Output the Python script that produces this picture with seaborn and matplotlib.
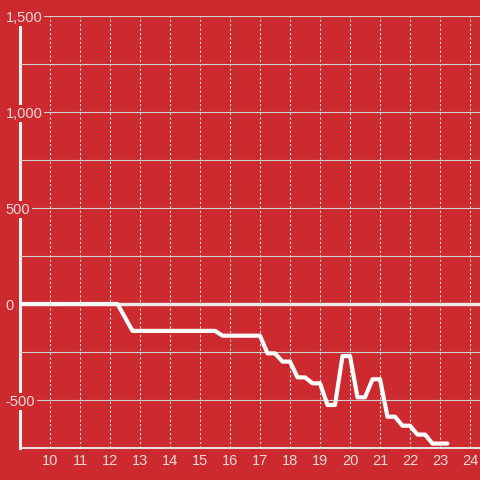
import matplotlib
matplotlib.use("Agg")
import matplotlib.pyplot as plt
import matplotlib.ticker as mticker
import numpy as np
import pandas as pd
import seaborn as sns

# hour of day (quarter steps) and running value
hours = [9.0, 9.25, 9.5, 9.75, 10.0, 10.25, 10.5, 10.75, 11.0, 11.25, 11.5, 11.75,
         12.0, 12.25, 12.5, 12.75, 13.0, 13.25, 13.5, 13.75, 14.0, 14.25, 14.5, 14.75,
         15.0, 15.25, 15.5, 15.75, 16.0, 16.25, 16.5, 16.75, 17.0, 17.25, 17.5, 17.75,
         18.0, 18.25, 18.5, 18.75, 19.0, 19.25, 19.5, 19.75, 20.0, 20.25, 20.5, 20.75,
         21.0, 21.25, 21.5, 21.75, 22.0, 22.25, 22.5, 22.75, 23.0, 23.25]
values = [0, 0, 0, 0, 0, 0, 0, 0, 0, 0, 0, 0,
          0, 0, -70, -140, -140, -140, -140, -140, -140, -140, -140, -140,
          -140, -140, -140, -165, -165, -165, -165, -165, -165, -257, -257, -300,
          -300, -382, -382, -413, -413, -526, -526, -271, -271, -486, -486, -392,
          -392, -587, -587, -634, -634, -680, -680, -727, -727, -727]
xticks = list(range(10, 25))
ylabel_ticks = [-500, 0, 500, 1000, 1500]
ylabel_text = ["-500", "0", "500", "1,000", "1,500"]
ygrid_ticks = [-750, -500, -250, 0, 250, 500, 750, 1000, 1250, 1500]

bg = "#cc2a2f"
txt = "#f3dada"
df = pd.DataFrame({"hour": hours, "value": values})

sns.set_style("white", {"axes.facecolor": bg, "figure.facecolor": bg})
plt.rcParams["font.family"] = ["Liberation Sans", "DejaVu Sans"]

fig = plt.figure(figsize=(4.8, 4.8), dpi=100)
ax = fig.add_axes([20 / 480, 32 / 480, 460 / 480, 432 / 480])
ax.set_axisbelow(True)

ax.axhline(0, color="#ececec", lw=2.4, zorder=0.6)
sns.lineplot(data=df, x="hour", y="value", color="white", lw=3.0, ax=ax, zorder=3)

ax.set_xlim(9, 9 + 460 / 30)
ax.set_ylim(-750, 1500)
ax.set_xticks(xticks)
ax.yaxis.set_minor_locator(mticker.FixedLocator(ygrid_ticks))

ax.grid(axis="x", which="major", color="#dddddd", lw=0.8, ls=(0, (2, 2)))
ax.grid(axis="y", which="both", color="#d0d0d0", lw=0.8, ls="-")

ax.tick_params(axis="x", length=0, pad=4.5, labelsize=10.5, labelcolor=txt)
ax.tick_params(axis="y", which="both", length=0, pad=10.3, labelsize=10.5, labelcolor=txt)
ax.set_yticks(ylabel_ticks)
ax.set_yticklabels(ylabel_text, ha="left",
                   bbox=dict(facecolor=bg, edgecolor="none", pad=1.2))

for s in ["top", "right"]:
    ax.spines[s].set_visible(False)
ax.spines["left"].set_color("#f0f0f0")
ax.spines["left"].set_linewidth(2.2)
ax.spines["left"].set_bounds(-750, 1458)
ax.spines["left"].set_zorder(0.4)
ax.spines["bottom"].set_color("#e6e6e6")
ax.spines["bottom"].set_linewidth(1.4)

ax.set_xlabel("")
ax.set_ylabel("")
fig.savefig("out.png", dpi=100, facecolor=bg)
